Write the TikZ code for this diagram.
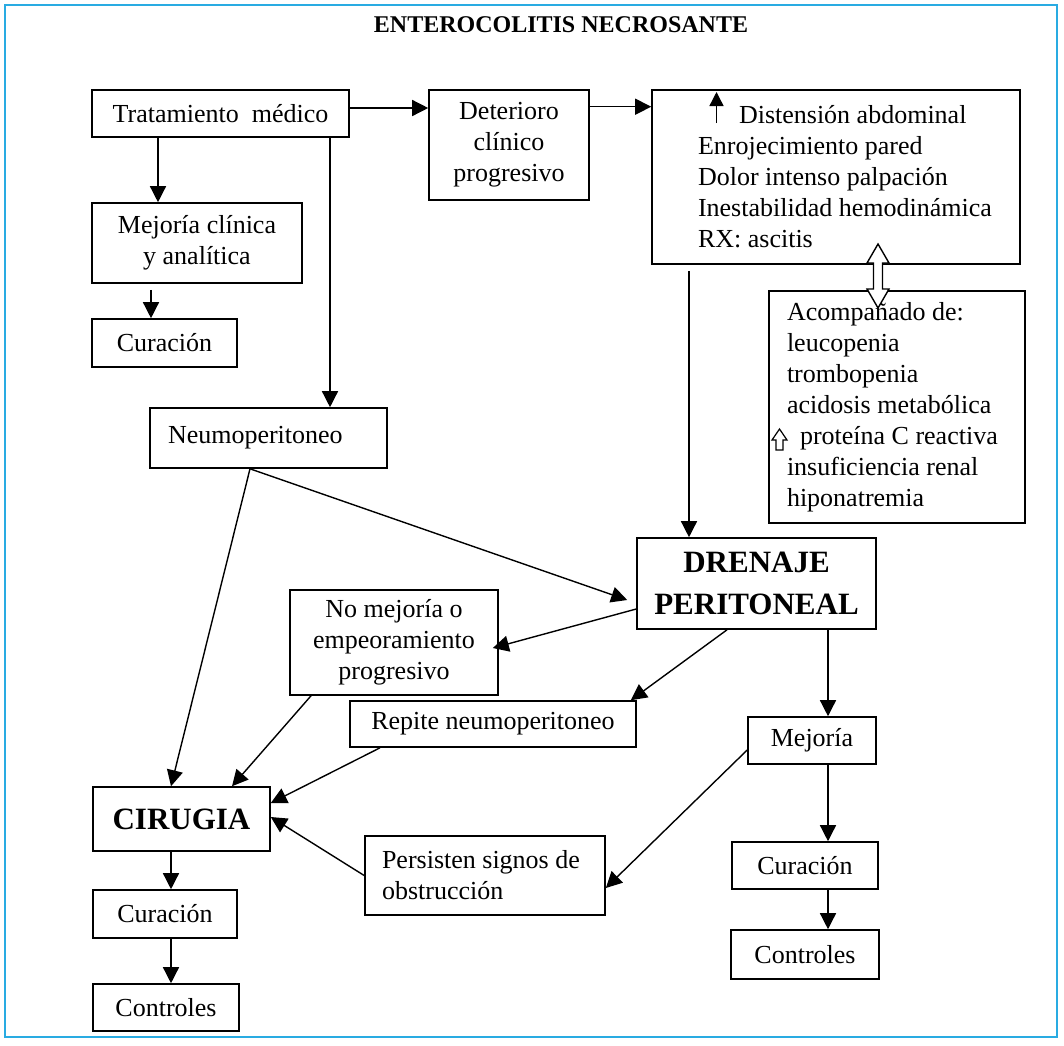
\documentclass[tikz,border=0pt]{standalone}
\usepackage{fontspec}
\setmainfont{Liberation Serif}
\usetikzlibrary{arrows.meta}
\definecolor{azulmarco}{RGB}{41,171,226}

\begin{document}
\begin{tikzpicture}[
    x=0.5pt, y=-0.5pt,
    caja/.style={draw, line width=0.8pt, align=center, inner sep=0pt, font=\fontsize{13}{15.5}\selectfont},
    caja_izq/.style={caja, align=flush left},
    caja_grande/.style={caja, font=\fontsize{15.5}{21}\selectfont\bfseries},
    titulo/.style={font=\fontsize{12}{14}\selectfont\bfseries},
    flecha/.style={line width=0.7pt, -{Triangle[length=8pt, width=8pt]}},
    hueca/.style={line width=0.7pt, fill=white, line join=miter},
    marco/.style={draw=azulmarco, line width=1pt}
]

% --- Marco y titulo ---
\useasboundingbox (0,0) rectangle (1064,1045);
\draw[marco] (5,5) rectangle (1057,1037);
\node[titulo] (titulo) at (561,25) {ENTEROCOLITIS NECROSANTE};

% --- Fila superior ---
\node[caja, minimum width=128.5pt, minimum height=23.5pt] (trat) at (220.5,113.5) {Tratamiento\ \ médico};
\node[caja, minimum width=80pt, minimum height=55pt] (deter) at (509,145) {Deterioro\\clínico\\progresivo};
\node[caja_izq, text width=138pt, inner xsep=23pt, minimum height=87pt] (sint) at (836,177) {\hspace*{20.5pt}Distensión abdominal\\Enrojecimiento pared\\Dolor intenso palpación\\\mbox{Inestabilidad hemodinámica}\\RX: ascitis};

% --- Rama izquierda ---
\node[caja, minimum width=105pt, minimum height=40pt] (mejclin) at (197,243) {Mejoría clínica\\y analítica};
\node[caja, minimum width=72.5pt, minimum height=24pt] (cur1) at (164.5,343) {Curación};
\node[caja_izq, text width=100.5pt, inner xsep=9pt, minimum height=30pt] (neumo) at (268.5,438) {Neumoperitoneo};

% --- Signos acompanantes ---
\node[caja_izq, text width=110pt, inner xsep=9pt, minimum height=116pt] (acomp) at (897,407) {Acompañado de:\\leucopenia\\trombopenia\\acidosis metabólica\\\hspace*{6.5pt}proteína C reactiva\\insuficiencia renal\\hiponatremia};

% --- Drenaje y sus salidas ---
\node[caja_grande, minimum width=119.5pt, minimum height=45.5pt] (dren) at (756.5,583.5) {DRENAJE\\PERITONEAL};
\node[caja, minimum width=104pt, minimum height=52.5pt] (nomej) at (394,642.5) {No mejoría o\\empeoramiento\\progresivo};
\node[caja, minimum width=143pt, minimum height=23pt] (repite) at (493,724) {Repite neumoperitoneo};
\node[caja, minimum width=64pt, minimum height=23.5pt] (mejoria) at (812,740.5) {Mejoría};
\node[caja_izq, text width=103pt, inner xsep=8.5pt, minimum height=39.5pt] (persis) at (485,875.5) {Persisten signos de\\obstrucción};
\node[caja, minimum width=73pt, minimum height=23.5pt] (cur2) at (805,865.5) {Curación};
\node[caja, minimum width=74pt, minimum height=24.5pt] (cont2) at (805,954.5) {Controles};

% --- Cirugia ---
\node[caja_grande, minimum width=88.5pt, minimum height=32pt] (ciru) at (181.5,819) {CIRUGIA};
\node[caja, minimum width=72pt, minimum height=24pt] (cur3) at (165,914) {Curación};
\node[caja, minimum width=73pt, minimum height=23.5pt] (cont3) at (166,1007.5) {Controles};

% --- Flechas de la fila superior ---
\draw[flecha] ([yshift=2.75pt]trat.east) -- ([yshift=2.75pt]trat.east -| deter.west);
\draw[flecha] ([yshift=-8.75pt]deter.north east) -- ([yshift=-8.75pt]deter.north east -| sint.west);
\draw[flecha] ([xshift=-31.25pt]trat.south) -- ([xshift=-31.25pt]trat.south |- mejclin.north);
\draw[flecha] ([xshift=-23pt, yshift=-3pt]mejclin.south) -- ([xshift=-23pt]mejclin.south |- cur1.north);
\draw[flecha] ([xshift=54.75pt]trat.south) -- ([xshift=54.75pt]trat.south |- neumo.north);
\draw[flecha] ([xshift=-73.5pt, yshift=-3pt]sint.south) -- ([xshift=-73.5pt]sint.south |- dren.north);

% Flecha hueca doble entre sintomas y signos
\draw[hueca] (878,244) -- (889,263) -- (882.5,263) -- (882.5,289) -- (889,289) -- (878,308)
    -- (867,289) -- (873.5,289) -- (873.5,263) -- (867,263) -- cycle;

% Simbolos dentro de las cajas
\draw[flecha, -{Triangle[length=7pt, width=7pt]}] (716.5,123) -- (716.5,92);
\draw[hueca, line width=0.6pt] (779.5,429) -- (787,440) -- (783,440) -- (783,450)
    -- (776,450) -- (776,440) -- (772,440) -- cycle;

% --- Flechas diagonales ---
\draw[flecha] ([xshift=-9.25pt]neumo.south) -- ([xshift=-4.5pt, yshift=-8.25pt]dren.west);
\draw[flecha] ([xshift=-9.25pt]neumo.south) -- ([xshift=-5.25pt]ciru.north);
\draw[flecha] ([yshift=-12.75pt]dren.west) -- ([xshift=-3pt, yshift=-2.75pt]nomej.east);
\draw[flecha] ([xshift=-14.75pt]dren.south) -- ([xshift=-3pt]repite.north east);
\draw[flecha] ([xshift=35.75pt]dren.south) -- ([xshift=35.75pt]dren.south |- mejoria.north);
\draw[flecha] ([xshift=-41.5pt]nomej.south) -- ([xshift=25.25pt]ciru.north);
\draw[flecha] ([xshift=-56.5pt]repite.south) -- ([yshift=8pt]ciru.east);
\draw[flecha] (persis.west) -- ([yshift=1pt]ciru.east);
\draw[flecha] ([yshift=-4.75pt]mejoria.west) -- ([yshift=-6.25pt]persis.east);

% --- Flechas verticales inferiores ---
\draw[flecha] ([xshift=8pt]mejoria.south) -- ([xshift=8pt]mejoria.south |- cur2.north);
\draw[flecha] ([xshift=11.5pt]cur2.south) -- ([xshift=11.5pt]cur2.south |- cont2.north);
\draw[flecha] ([xshift=-5.25pt]ciru.south) -- ([xshift=-5.25pt]ciru.south |- cur3.north);
\draw[flecha] ([xshift=3pt]cur3.south) -- ([xshift=3pt]cur3.south |- cont3.north);

\end{tikzpicture}
\end{document}
